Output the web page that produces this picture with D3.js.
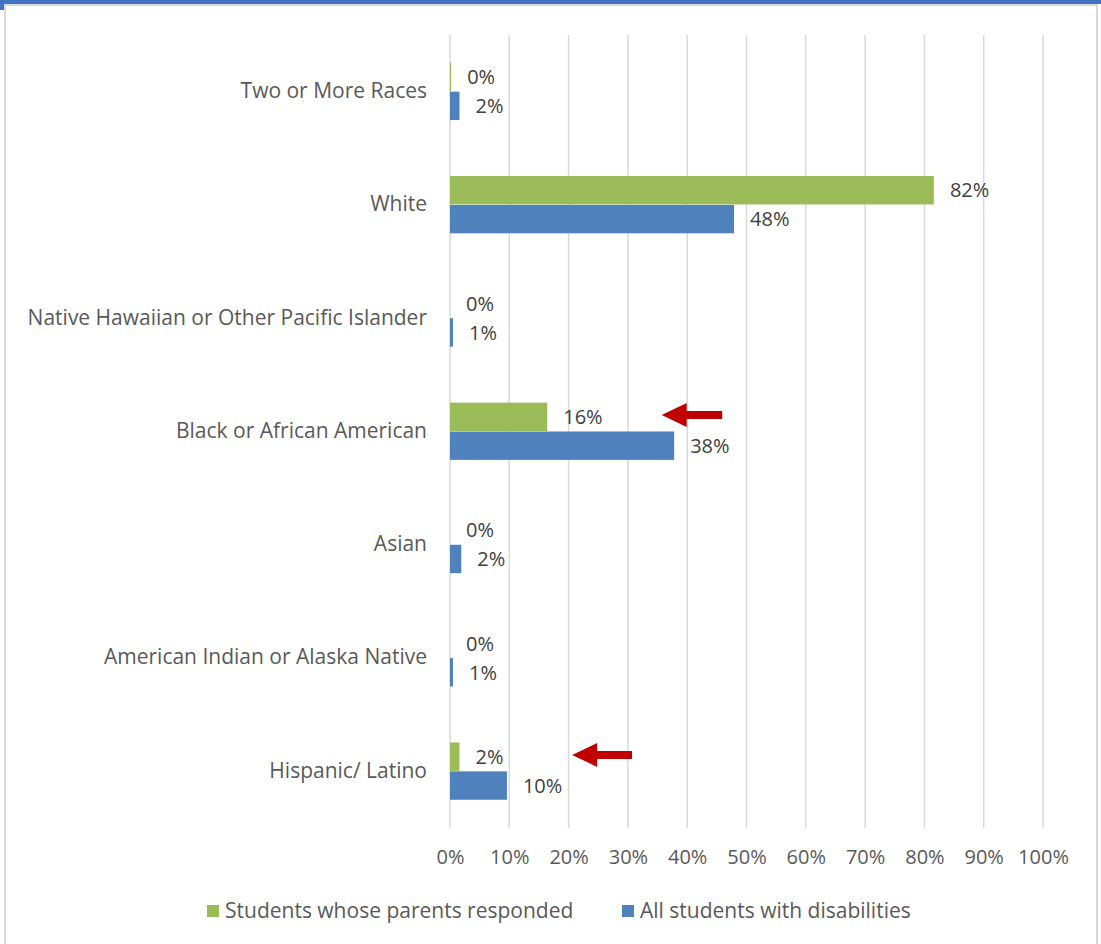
<!DOCTYPE html>
<html>
<head>
<meta charset="utf-8">
<script src="https://cdn.jsdelivr.net/npm/d3@7"></script>
<style>
  html, body { margin: 0; padding: 0; background: #fff; }
  svg { display: block; font-family: "Open Sans", "Liberation Sans", Arial, sans-serif; }
</style>
</head>
<body>
<svg id="chart" width="1101" height="944"></svg>
<script>
// Race / ethnicity categories, top to bottom
const categories = [
  "Two or More Races",
  "White",
  "Native Hawaiian or Other Pacific Islander",
  "Black or African American",
  "Asian",
  "American Indian or Alaska Native",
  "Hispanic/ Latino"
];
const seriesNames = ["Students whose parents responded", "All students with disabilities"];
const respondedValues = [0.002, 0.816, 0, 0.164, 0, 0, 0.016];
const allStudentsValues = [0.016, 0.479, 0.005, 0.378, 0.019, 0.005, 0.096];
const tickValues = [0, 0.1, 0.2, 0.3, 0.4, 0.5, 0.6, 0.7, 0.8, 0.9, 1.0];
const seriesColors = ["#9BBB59", "#4F81BD"];
// Callout arrows pointing at the responded-parents bars (from, to in axis units)
const callouts = [
  { category: "Black or African American", from: 0.459, to: 0.357 },
  { category: "Hispanic/ Latino", from: 0.307, to: 0.206 }
];

const svg = d3.select("#chart");
const W = 1101, H = 944;
const FONT = 20, LABEL_FONT = 21;

// frame
svg.append("rect").attr("x", 0).attr("y", 0).attr("width", 10).attr("height", 10).attr("fill", "#4472C4");
svg.append("rect").attr("x", 0).attr("y", 0).attr("width", W).attr("height", 4).attr("fill", "#4472C4");
svg.append("rect").attr("x", 5).attr("y", 5).attr("width", W - 9).attr("height", H + 10)
  .attr("fill", "#fff").attr("stroke", "#d9d9d9").attr("stroke-width", 2);

const plotTop = 35, plotBottom = 828, plotLeft = 450, plotRight = 1043;

const x = d3.scaleLinear().domain([0, 1]).range([plotLeft, plotRight]);
const y0 = d3.scaleBand().domain(categories).range([plotTop, plotBottom])
  .paddingInner(0.49).paddingOuter(0.245);
const y1 = d3.scaleBand().domain(seriesNames).range([0, y0.bandwidth()]);

const rows = categories.map((c, i) => ({
  category: c,
  values: [
    { series: seriesNames[0], value: respondedValues[i] },
    { series: seriesNames[1], value: allStudentsValues[i] }
  ]
}));

// vertical gridlines
svg.append("g").selectAll("line").data(tickValues).join("line")
  .attr("x1", d => x(d)).attr("x2", d => x(d))
  .attr("y1", plotTop).attr("y2", plotBottom)
  .attr("stroke", "#d9d9d9").attr("stroke-width", 1.5);

// x axis tick labels
const xAxis = d3.axisBottom(x).tickValues(tickValues).tickFormat(d3.format(".0%")).tickSize(0).tickPadding(0);
const axisG = svg.append("g").attr("transform", `translate(0,${plotBottom + 22})`).call(xAxis);
axisG.select(".domain").remove();
axisG.selectAll("text").attr("fill", "#595959").attr("font-size", FONT)
  .attr("font-family", "'Open Sans', 'Liberation Sans', Arial, sans-serif");

// category labels
svg.append("g").selectAll("text").data(categories).join("text")
  .attr("x", plotLeft - 23)
  .attr("y", d => y0(d) + y0.bandwidth() / 2 - 1)
  .attr("dy", "0.35em")
  .attr("text-anchor", "end")
  .attr("fill", "#595959")
  .attr("font-size", LABEL_FONT)
  .text(d => d);

const fmt = d3.format(".0%");
const groups = svg.append("g").selectAll("g").data(rows).join("g")
  .attr("transform", d => `translate(0,${y0(d.category)})`);

groups.selectAll("rect").data(d => d.values).join("rect")
  .attr("x", x(0))
  .attr("y", d => y1(d.series))
  .attr("width", d => x(d.value) - x(0))
  .attr("height", y1.bandwidth() - 0.5)
  .attr("fill", (d, i) => seriesColors[i]);

groups.selectAll("text").data(d => d.values).join("text")
  .attr("x", d => x(d.value) + 16)
  .attr("y", d => y1(d.series) + y1.bandwidth() / 2)
  .attr("dy", "0.35em")
  .attr("fill", "#404040")
  .attr("font-size", FONT)
  .text(d => fmt(d.value));

// callout arrows
const arrowG = svg.append("g");
callouts.forEach(c => {
  const cy = y0(c.category) + y1(seriesNames[0]) + y1.bandwidth() / 2 - 2;
  const tip = x(c.to), tail = x(c.from);
  const headLen = 25, headHalf = 12, shaftHalf = 4;
  const pts = [
    [tip, cy],
    [tip + headLen, cy - headHalf],
    [tip + headLen, cy - shaftHalf],
    [tail, cy - shaftHalf],
    [tail, cy + shaftHalf],
    [tip + headLen, cy + shaftHalf],
    [tip + headLen, cy + headHalf]
  ];
  arrowG.append("polygon").attr("points", pts.map(p => p.join(",")).join(" ")).attr("fill", "#C00000");
});

// legend
const legend = svg.append("g").attr("transform", "translate(0,911)");
const legendX = [207, 622];
seriesNames.forEach((s, i) => {
  legend.append("rect").attr("x", legendX[i]).attr("y", -6).attr("width", 12).attr("height", 12).attr("fill", seriesColors[i]);
  legend.append("text").attr("x", legendX[i] + 18).attr("y", 0).attr("dy", "0.35em")
    .attr("fill", "#595959").attr("font-size", LABEL_FONT).text(s);
});
</script>
</body>
</html>
